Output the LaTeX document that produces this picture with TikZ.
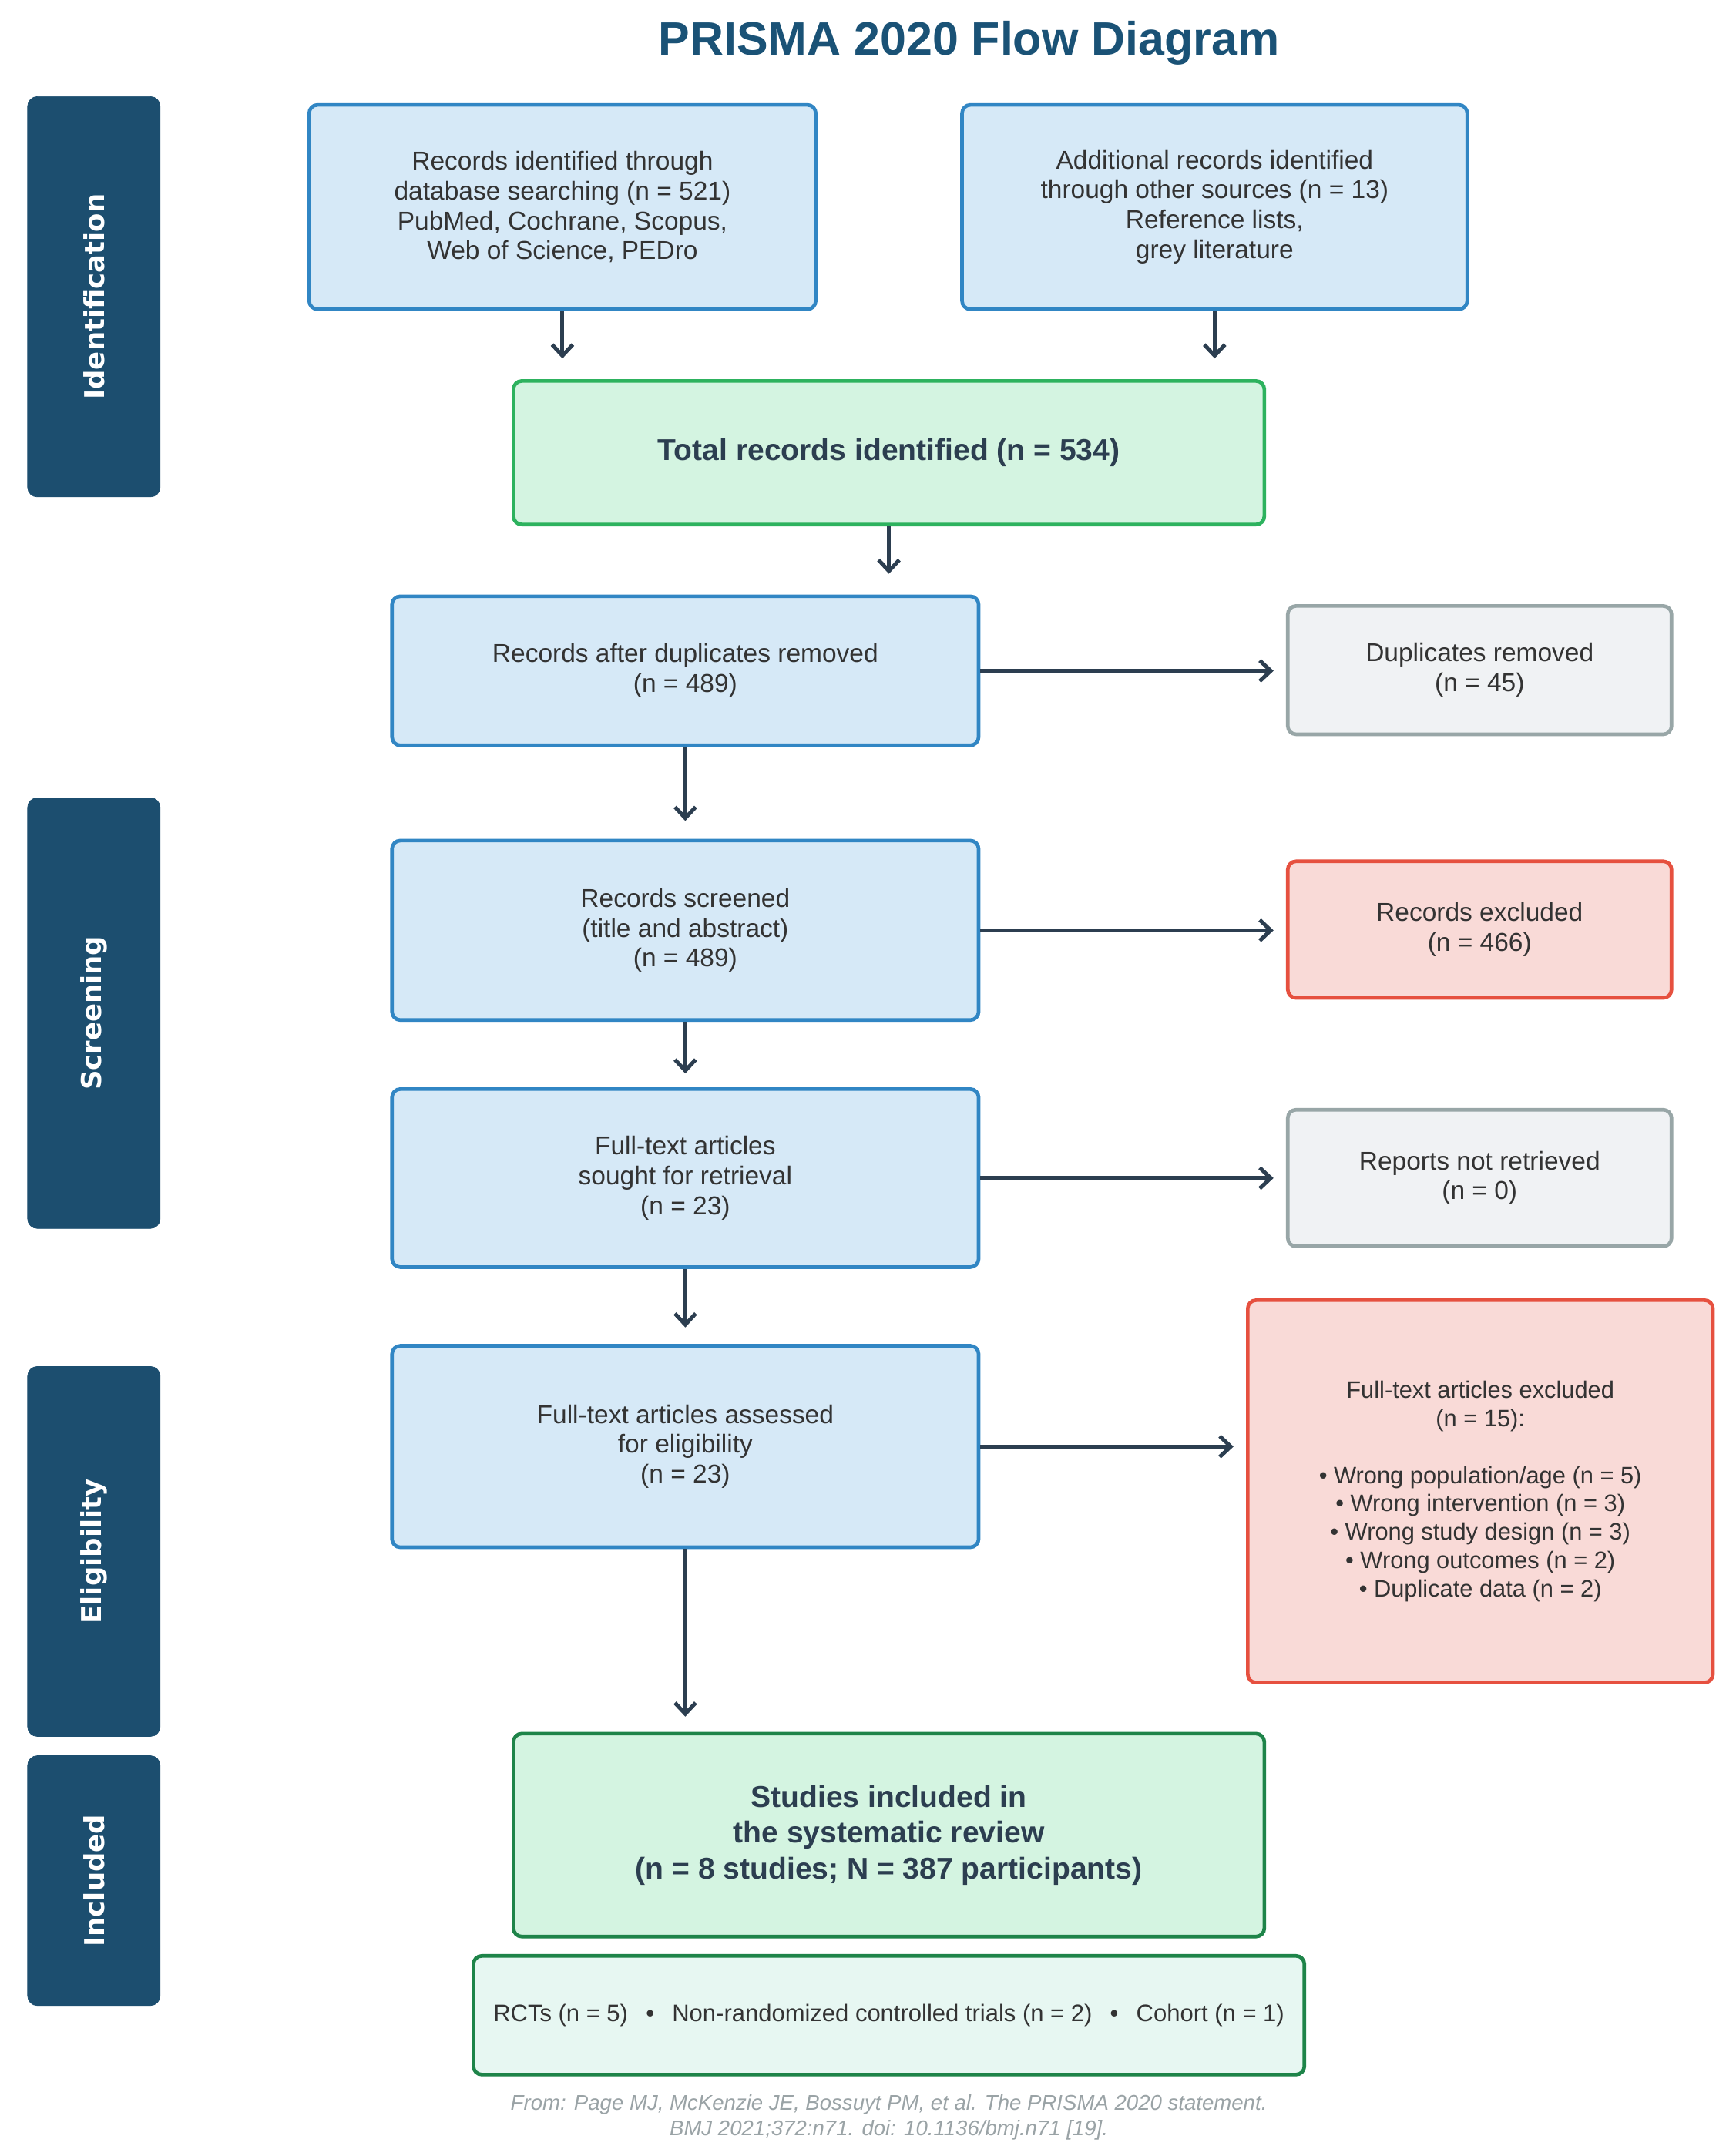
\documentclass[tikz,border=0pt]{standalone}
\usepackage{fontspec}
\setmainfont{Liberation Sans}
\newfontfamily\bannerfont{DejaVu Sans}
\usetikzlibrary{arrows.meta}
\definecolor{navy}{HTML}{1C4E6F}
\definecolor{titleblue}{HTML}{1A5276}
\definecolor{bluefill}{HTML}{D6E9F7}
\definecolor{blueline}{HTML}{3186C4}
\definecolor{greenfill}{HTML}{D4F4E1}
\definecolor{greenline}{HTML}{2DB25E}
\definecolor{darkgreen}{HTML}{1E8449}
\definecolor{typefill}{HTML}{E7F7F2}
\definecolor{greyfill}{HTML}{F0F2F4}
\definecolor{greyline}{HTML}{98A6A7}
\definecolor{redfill}{HTML}{F9DAD7}
\definecolor{redline}{HTML}{E6503F}
\definecolor{arrowcol}{HTML}{2C3E50}
\definecolor{textcol}{HTML}{333333}
\definecolor{notecol}{HTML}{9AA3A6}
\tikzset{
  box/.style={rectangle, rounded corners=6pt, line width=2.6pt, align=center, inner sep=0pt,
    text=textcol, font=\fontsize{18.7}{21.7}\selectfont},
  bluebox/.style={box, fill=bluefill, draw=blueline},
  greenbox/.style={box, fill=greenfill, draw=greenline, text=arrowcol, font=\bfseries\fontsize{21.8}{26}\selectfont},
  greybox/.style={box, fill=greyfill, draw=greyline},
  redbox/.style={box, fill=redfill, draw=redline},
  banner/.style={rectangle, rounded corners=7pt, fill=navy, draw=navy, text=white, rotate=90,
    inner sep=0pt, font=\bannerfont\bfseries\fontsize{19.8}{23}\selectfont},
  arr/.style={draw=arrowcol, line width=2.8pt, -{Straight Barb[length=8pt,width=15pt,line width=2.8pt]}},
}
\begin{document}
\begin{tikzpicture}[x=1pt,y=-1pt]
\useasboundingbox[fill=white] (0,0) rectangle (1250,1562);
% title
\node[font=\bfseries\fontsize{34}{38}\selectfont, text=titleblue] (title) at (702,31) {PRISMA 2020 Flow Diagram};
% phase banners
\node[banner, minimum width=290pt, minimum height=96pt] (bid) at (68,215) {Identification};
\node[banner, minimum width=312pt, minimum height=96pt] (bsc) at (68,734) {Screening};
\node[banner, minimum width=268pt, minimum height=96pt] (bel) at (68,1124) {Eligibility};
\node[banner, minimum width=181pt, minimum height=96pt] (bin) at (68,1362.5) {Included};
% identification
\node[bluebox, minimum width=367pt, minimum height=148pt] (db) at (407.5,150)
  {Records identified through\\database searching (n = 521)\\PubMed, Cochrane, Scopus,\\Web of Science, PEDro};
\node[bluebox, minimum width=366pt, minimum height=148pt] (other) at (880,150)
  {Additional records identified\\through other sources (n = 13)\\Reference lists,\\grey literature};
\node[greenbox, minimum width=544pt, minimum height=104pt] (total) at (644,328)
  {Total records identified (n = 534)};
% screening
\node[bluebox, minimum width=425pt, minimum height=108pt] (dedup) at (496.5,486)
  {Records after duplicates removed\\(n = 489)};
\node[greybox, minimum width=278pt, minimum height=93pt] (dups) at (1072,485.5)
  {Duplicates removed\\(n = 45)};
\node[bluebox, minimum width=425pt, minimum height=130pt] (screen) at (496.5,674)
  {Records screened\\(title and abstract)\\(n = 489)};
\node[redbox, minimum width=278pt, minimum height=99pt] (recex) at (1072,673.5)
  {Records excluded\\(n = 466)};
\node[bluebox, minimum width=425pt, minimum height=129pt] (sought) at (496.5,853.5)
  {Full-text articles\\sought for retrieval\\(n = 23)};
\node[greybox, minimum width=278pt, minimum height=99pt] (notret) at (1072,853.5)
  {Reports not retrieved\\(n = 0)};
% eligibility
\node[bluebox, minimum width=425pt, minimum height=146pt] (assess) at (496.5,1048)
  {Full-text articles assessed\\for eligibility\\(n = 23)};
\node[redbox, minimum width=337pt, minimum height=277pt, font=\fontsize{17.2}{20.5}\selectfont] (ftex) at (1072.5,1080.5)
  {Full-text articles excluded\\(n = 15):\\[20.5pt]
   \textbullet\ Wrong population/age (n = 5)\\
   \textbullet\ Wrong intervention (n = 3)\\
   \textbullet\ Wrong study design (n = 3)\\
   \textbullet\ Wrong outcomes (n = 2)\\
   \textbullet\ Duplicate data (n = 2)};
% included
\node[greenbox, draw=darkgreen, minimum width=544pt, minimum height=147pt] (incl) at (644,1329.5)
  {Studies included in\\the systematic review\\(n = 8 studies; N = 387 participants)};
\node[box, fill=typefill, draw=darkgreen, minimum width=602pt, minimum height=86pt, font=\fontsize{17.3}{20}\selectfont] (types) at (644,1460)
  {RCTs (n = 5)\hspace{0.75em}\textbullet\hspace{0.75em}Non-randomized controlled trials (n = 2)\hspace{0.75em}\textbullet\hspace{0.75em}Cohort (n = 1)};
% footnote
\node[text=notecol, align=center, font=\itshape\fontsize{15.4}{18}\selectfont] (note) at (644,1534)
  {From: Page MJ, McKenzie JE, Bossuyt PM, et al. The PRISMA 2020 statement.\\BMJ 2021;372:n71. doi: 10.1136/bmj.n71 [19].};
% connectors
\draw[arr, shorten >=15pt] (db.south) -- (db.south |- total.north);
\draw[arr, shorten >=15pt] (other.south) -- (other.south |- total.north);
\draw[arr, shorten >=15pt] (total.south) -- (total.south |- dedup.north);
\draw[arr, shorten >=13pt] (dedup.south) -- (screen.north);
\draw[arr, shorten >=10pt] (screen.south) -- (sought.north);
\draw[arr, shorten >=12pt] (sought.south) -- (assess.north);
\draw[arr, shorten >=11pt] (assess.south) -- (assess.south |- incl.north);
\draw[arr, shorten >=9pt] (dedup.east) -- (dedup.east -| dups.west);
\draw[arr, shorten >=9pt] (screen.east) -- (screen.east -| recex.west);
\draw[arr, shorten >=9pt] (sought.east) -- (sought.east -| notret.west);
\draw[arr, shorten >=9pt] (assess.east) -- (assess.east -| ftex.west);
\end{tikzpicture}
\end{document}
